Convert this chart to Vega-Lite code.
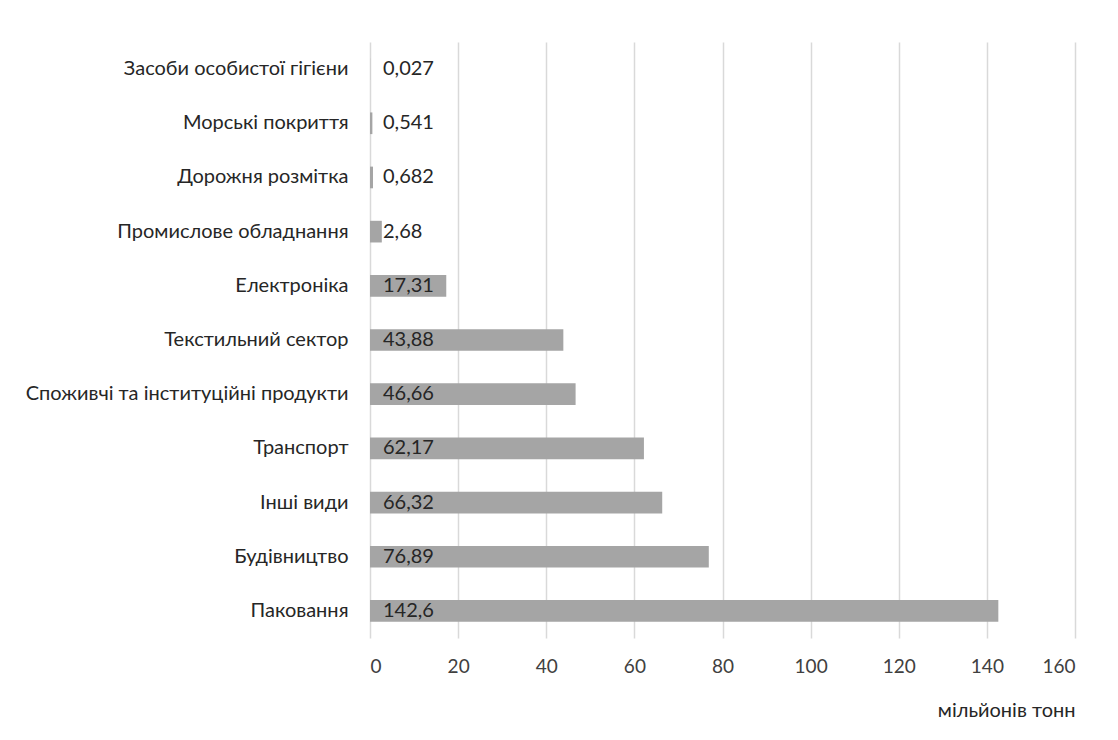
{
  "$schema": "https://vega.github.io/schema/vega-lite/v6.json",
  "autosize": {"type": "none"},
  "padding": {"left": 370, "top": 42, "right": 43, "bottom": 102},
  "width": 705,
  "height": 596,
  "background": "white",
  "config": {
    "font": "Lato",
    "view": {"stroke": null},
    "axis": {"labelColor": "#404040", "titleColor": "#404040", "labelFont": "Lato", "titleFont": "Lato"}
  },
  "data": {
    "values": [
      {"category": "Засоби особистої гігієни", "value": 0.027, "label": "0,027"},
      {"category": "Морські покриття", "value": 0.541, "label": "0,541"},
      {"category": "Дорожня розмітка", "value": 0.682, "label": "0,682"},
      {"category": "Промислове обладнання", "value": 2.68, "label": "2,68"},
      {"category": "Електроніка", "value": 17.31, "label": "17,31"},
      {"category": "Текстильний сектор", "value": 43.88, "label": "43,88"},
      {"category": "Споживчі та інституційні продукти", "value": 46.66, "label": "46,66"},
      {"category": "Транспорт", "value": 62.17, "label": "62,17"},
      {"category": "Інші види", "value": 66.32, "label": "66,32"},
      {"category": "Будівництво", "value": 76.89, "label": "76,89"},
      {"category": "Паковання", "value": 142.6, "label": "142,6"}
    ]
  },
  "encoding": {
    "y": {
      "field": "category", "type": "nominal", "sort": null,
      "scale": {"paddingInner": 0.6, "paddingOuter": 0.3},
      "axis": {"title": null, "domain": false, "ticks": false, "labelPadding": 22, "labelFontSize": 20, "labelColor": "#262626", "labelLimit": 400}
    }
  },
  "layer": [
    {
      "mark": {"type": "bar", "color": "#a5a5a5"},
      "encoding": {
        "x": {
          "field": "value", "type": "quantitative",
          "scale": {"domain": [0, 160], "nice": false},
          "axis": {
            "values": [0, 20, 40, 60, 80, 100, 120, 140, 160],
            "title": "мільйонів тонн", "titleAnchor": "end", "titleAlign": "right",
            "titleFontSize": 20, "titleFontWeight": "normal", "titlePadding": 24, "titleColor": "#262626",
            "domain": false, "ticks": false, "labelPadding": 19, "labelFontSize": 19, "labelColor": "#404040",
            "grid": true, "gridColor": "#d9d9d9", "gridWidth": 1.5
          }
        }
      }
    },
    {
      "mark": {"type": "text", "align": "left", "baseline": "middle", "dx": 13, "fontSize": 20, "color": "#262626"},
      "encoding": {
        "x": {"datum": 0, "type": "quantitative"},
        "text": {"field": "label"}
      }
    }
  ]
}
